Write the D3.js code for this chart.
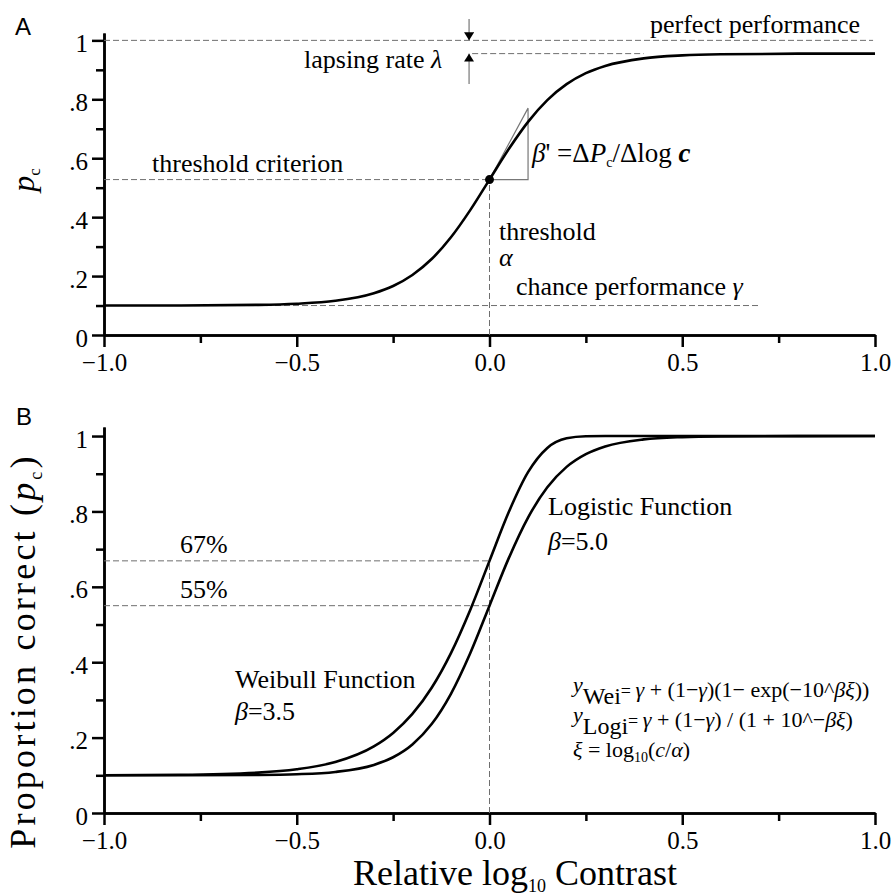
<!DOCTYPE html>
<html>
<head>
<meta charset="utf-8">
<script src="https://cdn.jsdelivr.net/npm/d3@7"></script>
<style>
  body { margin: 0; background: #fff; }
  svg { display: block; }
</style>
</head>
<body>
<svg id="chart" width="892" height="893"></svg>
<script>
// values
const xGrid = [-1, -0.8, -0.6, -0.5, -0.4, -0.3, -0.25, -0.2, -0.15, -0.1, -0.05, 0, 0.05, 0.1, 0.15, 0.2, 0.25, 0.3, 0.4, 0.5, 0.6, 0.8, 1];
// panel A psychometric curve
const pcA = [0.1, 0.1003, 0.1022, 0.106, 0.116, 0.1417, 0.1664, 0.2037, 0.2578, 0.3316, 0.4238, 0.5275, 0.6312, 0.7235, 0.7972, 0.8513, 0.8887, 0.9133, 0.939, 0.949, 0.9528, 0.9549, 0.955];
// panel B curves
const pcWeibull = [0.1003, 0.1014, 0.1071, 0.1159, 0.1351, 0.1767, 0.2124, 0.2628, 0.3323, 0.4242, 0.5387, 0.6689, 0.7984, 0.9041, 0.9684, 0.994, 0.9995, 1, 1, 1, 1, 1, 1];
const pcLogistic = [0.1, 0.1001, 0.1009, 0.1028, 0.1089, 0.1276, 0.1479, 0.1818, 0.2359, 0.3163, 0.4239, 0.55, 0.6761, 0.7837, 0.8641, 0.9182, 0.9521, 0.9724, 0.9911, 0.9972, 0.9991, 0.9999, 1];

const xMajor = [-1, -0.5, 0, 0.5, 1];
const xMinor = [-0.75, -0.25, 0.25, 0.75];
const yMajor = [0, 0.2, 0.4, 0.6, 0.8, 1];
const yMinor = [0.1, 0.3, 0.5, 0.7, 0.9];

// reference levels
const chance = 0.1;
const upperA = 0.955;
const critA = 0.5275;
const slopeTop = 0.77;   // top of the slope triangle at x = 0.1
const critWei = 0.6689;
const critLogi = 0.55;

const SERIF = "'Liberation Serif', 'Times New Roman', serif";
const SANS = "'Liberation Sans', Arial, sans-serif";

const svg = d3.select("#chart");

const x = d3.scaleLinear().domain([-1, 1]).range([104, 875]);
const yA = d3.scaleLinear().domain([0, 1.025]).range([335, 33]);
const yB = d3.scaleLinear().domain([0, 1.024]).range([813, 427]);

svg.append("defs").append("marker")
	.attr("id", "arrow")
	.attr("viewBox", "0 0 8 10")
	.attr("refX", 8).attr("refY", 5)
	.attr("markerWidth", 8).attr("markerHeight", 10)
	.attr("markerUnits", "userSpaceOnUse")
	.attr("orient", "auto")
	.append("path")
	.attr("d", "M0,0 L8,5 L0,10 Z")
	.attr("fill", "#000");

function yFmt(d) {
	if (d === 0) return "0";
	if (d === 1) return "1";
	return d3.format(".1f")(d).slice(1);
}

function drawAxes(y, axisY) {
	const g = svg.append("g");
	g.append("g").attr("transform", `translate(0,${axisY})`)
		.call(d3.axisBottom(x).tickValues(xMinor).tickSize(8).tickSizeOuter(0).tickFormat(""));
	g.append("g").attr("transform", `translate(0,${axisY})`)
		.call(d3.axisBottom(x).tickValues(xMajor).tickSize(12).tickSizeOuter(0).tickPadding(6).tickFormat(d3.format(".1f")));
	g.append("g").attr("transform", `translate(${x(-1)},0)`)
		.call(d3.axisLeft(y).tickValues(yMinor).tickSize(8).tickSizeOuter(0).tickFormat(""));
	const ly = g.append("g").attr("transform", `translate(${x(-1)},0)`)
		.call(d3.axisLeft(y).tickValues(yMajor).tickSize(12).tickSizeOuter(0).tickPadding(4).tickFormat(yFmt));
	ly.selectAll("text").attr("dy", "0.44em");

	g.selectAll(".domain, .tick line").attr("stroke", "#000").attr("stroke-width", 2.5);
	g.selectAll("text").attr("font-family", SERIF).attr("font-size", 25).attr("fill", "#000");
	return g;
}

function dashed(y, x1, y1, x2, y2) {
	svg.append("line")
		.attr("x1", x(x1)).attr("y1", y(y1))
		.attr("x2", x(x2)).attr("y2", y(y2))
		.attr("stroke", "#6f6f6f").attr("stroke-width", 1)
		.attr("stroke-dasharray", "6,3");
}

// text made of pieces (italic greek, subscripts...)
function rich(px, py, parts, size, anchor) {
	const t = svg.append("text")
		.attr("x", px).attr("y", py)
		.attr("font-family", SERIF)
		.attr("font-size", size)
		.attr("text-anchor", anchor || "start")
		.attr("fill", "#000");
	let shift = 0;
	parts.forEach(p => {
		const s = t.append("tspan").text(p.t);
		const want = p.shift || 0;
		if (want !== shift) { s.attr("dy", want - shift); shift = want; }
		if (p.i) s.attr("font-style", "italic");
		if (p.b) s.attr("font-weight", "bold");
		if (p.size) s.attr("font-size", p.size);
	});
	return t;
}

const line = (y, vals) => d3.line()
	.x((d, i) => x(xGrid[i]))
	.y(d => y(d))
	.curve(d3.curveMonotoneX)(vals);

// ---------- panel A ----------
drawAxes(yA, yA(0));

dashed(yA, -1, 1, 0.995, 1);
dashed(yA, -0.045, upperA, 0.4, upperA);
dashed(yA, -1, critA, 0, critA);
dashed(yA, 0, 0, 0, critA);
dashed(yA, -1, chance, 0.7, chance);

// slope triangle
svg.append("path")
	.attr("d", `M${x(0)},${yA(critA)} L${x(0.1)},${yA(critA)} L${x(0.1)},${yA(slopeTop)} Z`)
	.attr("fill", "none").attr("stroke", "#777").attr("stroke-width", 1.2);

svg.append("path")
	.attr("d", line(yA, pcA))
	.attr("fill", "none").attr("stroke", "#000").attr("stroke-width", 2.6);

svg.append("circle")
	.attr("cx", x(0)).attr("cy", yA(critA)).attr("r", 4.5).attr("fill", "#000");

// lapse arrows
const arrowX = x(-0.053);
svg.append("line")
	.attr("x1", arrowX).attr("y1", 19).attr("x2", arrowX).attr("y2", yA(1))
	.attr("stroke", "#777").attr("stroke-width", 1.2).attr("marker-end", "url(#arrow)");
svg.append("line")
	.attr("x1", arrowX).attr("y1", 84).attr("x2", arrowX).attr("y2", yA(upperA))
	.attr("stroke", "#777").attr("stroke-width", 1.2).attr("marker-end", "url(#arrow)");

svg.append("text").attr("x", 15).attr("y", 35)
	.attr("font-family", SANS).attr("font-size", 24).text("A");

rich(650, 33, [{ t: "perfect performance" }], 26);
rich(304, 68, [{ t: "lapsing rate " }, { t: "λ", i: true }], 26);
rich(152, 172, [{ t: "threshold criterion" }], 26);
rich(532, 162, [
	{ t: "β", i: true }, { t: "' =Δ" }, { t: "P", i: true },
	{ t: "c", size: 14, shift: 5 }, { t: "/Δlog ", shift: 0 }, { t: "c", i: true, b: true }
], 27);
rich(499, 240, [{ t: "threshold" }], 26);
rich(499, 266, [{ t: "α", i: true }], 26);
rich(516, 295, [{ t: "chance performance " }, { t: "γ", i: true }], 26);

// y label A
svg.append("g").attr("transform", "translate(34,180) rotate(-90)")
	.append("text")
	.attr("text-anchor", "middle")
	.attr("font-family", SERIF).attr("font-size", 32)
	.call(t => {
		t.append("tspan").attr("font-style", "italic").text("p");
		t.append("tspan").attr("font-size", 17).attr("dy", 6).text("c");
	});

// ---------- panel B ----------
drawAxes(yB, yB(0));

dashed(yB, -1, critWei, 0, critWei);
dashed(yB, -1, critLogi, 0, critLogi);
dashed(yB, 0, 0, 0, critWei);

svg.append("path")
	.attr("d", line(yB, pcWeibull))
	.attr("fill", "none").attr("stroke", "#000").attr("stroke-width", 2.6);
svg.append("path")
	.attr("d", line(yB, pcLogistic))
	.attr("fill", "none").attr("stroke", "#000").attr("stroke-width", 2.6);

svg.append("text").attr("x", 16).attr("y", 425)
	.attr("font-family", SANS).attr("font-size", 24).text("B");

rich(180, 553, [{ t: "67%" }], 26);
rich(180, 598, [{ t: "55%" }], 26);
rich(548, 515, [{ t: "Logistic Function" }], 26);
rich(548, 550, [{ t: "β", i: true }, { t: "=5.0" }], 26);
rich(235, 688, [{ t: "Weibull Function" }], 26);
rich(235, 720, [{ t: "β", i: true }, { t: "=3.5" }], 26);

rich(573, 697, [
	{ t: "y", i: true, shift: -5 }, { t: "Wei", size: 24, shift: 7 },
	{ t: "= ", size: 18, shift: 0 }, { t: "γ", i: true }, { t: " + (1−" }, { t: "γ", i: true },
	{ t: ")(1− exp(−10^" }, { t: "βξ", i: true }, { t: "))" }
], 22);
rich(573, 727, [
	{ t: "y", i: true, shift: -5 }, { t: "Logi", size: 24, shift: 7 },
	{ t: "= ", size: 18, shift: 0 }, { t: "γ", i: true }, { t: " + (1−" }, { t: "γ", i: true },
	{ t: ") / (1 + 10^−" }, { t: "βξ", i: true }, { t: ")" }
], 22);
rich(573, 757, [
	{ t: "ξ", i: true }, { t: " = log" }, { t: "10", size: 14, shift: 5 },
	{ t: "(", shift: 0 }, { t: "c", i: true }, { t: "/" }, { t: "α", i: true }, { t: ")" }
], 22);

// y label B
svg.append("g").attr("transform", "translate(35,651) rotate(-90)")
	.append("text")
	.attr("text-anchor", "middle")
	.attr("font-family", SERIF).attr("font-size", 36)
	.attr("letter-spacing", 3.2)
	.call(t => {
		t.append("tspan").text("Proportion correct (");
		t.append("tspan").attr("font-style", "italic").text("p");
		t.append("tspan").attr("font-size", 18).attr("dy", 7).text("c");
		t.append("tspan").attr("dy", -7).text(")");
	});

// x label
rich(353, 885, [{ t: "Relative log" }, { t: "10", size: 18, shift: 7 }, { t: " Contrast", shift: 0 }], 36);
</script>
</body>
</html>
